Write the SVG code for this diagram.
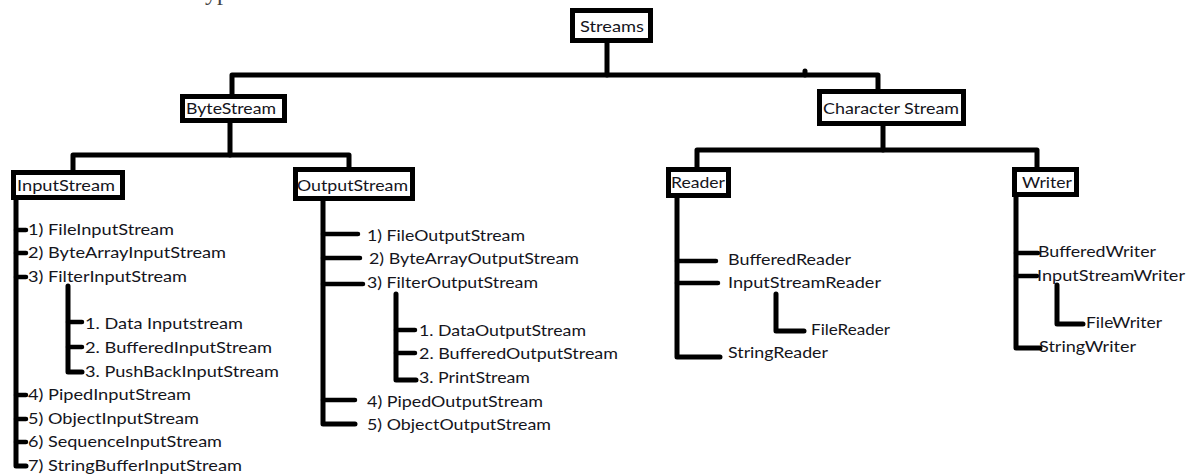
<svg xmlns="http://www.w3.org/2000/svg" width="1192" height="474" viewBox="0 0 1192 474">
  <style>
    .box { fill: #ffffff; stroke: #000000; stroke-width: 5; }
    .wire { fill: none; stroke: #000000; stroke-width: 5; stroke-linejoin: round; stroke-linecap: round; }
    .tick { fill: none; stroke: #000000; stroke-width: 4.5; stroke-linejoin: round; stroke-linecap: round; }
    text { font-family: Lato, "Open Sans", "Liberation Sans", sans-serif; font-size: 15px; fill: #15151c; }
    .cut { font-family: "Liberation Serif", serif; font-size: 24px; fill: #444444; }
  </style>
  <rect width="1192" height="474" fill="#ffffff"/>

  <!-- caption line running off the top edge -->
  <text class="cut" x="205" y="0">yp</text>

  <!-- tree connectors -->
  <g id="connectors">
    <path class="wire" d="M607 43 V75"/>
    <path class="wire" d="M232 94 V75 H878 V89"/>
    <path class="wire" d="M805 75 V71" stroke-width="3"/>
    <path class="wire" d="M230 123 V155"/>
    <path class="wire" d="M73 170 V155 H349 V167"/>
    <path class="wire" d="M883 126 V150"/>
    <path class="wire" d="M697 167 V150 H1037 V168"/>

    <!-- InputStream subclasses -->
    <path class="wire" d="M16 200 V466 H26"/>
    <path class="tick" d="M16 230 H26 M16 253 H26 M16 277 H26 M16 395 H26 M16 419 H26 M16 442 H26"/>
    <path class="wire" d="M68 286 V372 H82"/>
    <path class="tick" d="M68 322 H82 M68 347 H82"/>

    <!-- OutputStream subclasses -->
    <path class="wire" d="M323 201 V424 H355"/>
    <path class="tick" d="M323 234 H358 M323 258 H360 M323 284 H363 M323 400 H355"/>
    <path class="wire" d="M396 294 V380 H416"/>
    <path class="tick" d="M396 330 H415 M396 353 H415"/>

    <!-- Reader subclasses -->
    <path class="wire" d="M677 198 V357 H720"/>
    <path class="tick" d="M677 261 H716 M677 283 H718"/>
    <path class="wire" d="M776 294 V331 H804"/>

    <!-- Writer subclasses -->
    <path class="wire" d="M1016 196 V348 H1040"/>
    <path class="tick" d="M1016 253 H1038 M1016 276 H1037"/>
    <path class="wire" d="M1057 285 V324 H1083"/>
  </g>

  <g id="streams">
    <rect class="box" x="572.5" y="10.5" width="78" height="30"/>
    <text x="580" y="32" textLength="64" lengthAdjust="spacingAndGlyphs">Streams</text>
  </g>

  <g id="byte-stream">
    <rect class="box" x="182.5" y="96.5" width="102" height="24"/>
    <text x="186" y="114" textLength="90" lengthAdjust="spacingAndGlyphs">ByteStream</text>
  </g>

  <g id="character-stream">
    <rect class="box" x="819.5" y="91.5" width="144" height="32"/>
    <text x="823" y="114" textLength="136" lengthAdjust="spacingAndGlyphs">Character Stream</text>
  </g>

  <g id="input-stream">
    <rect class="box" x="13.5" y="172.5" width="109" height="25"/>
    <text x="17" y="191" textLength="98" lengthAdjust="spacingAndGlyphs">InputStream</text>
  </g>

  <g id="output-stream">
    <rect class="box" x="295.5" y="169.5" width="117" height="29"/>
    <text x="297" y="191" textLength="111" lengthAdjust="spacingAndGlyphs">OutputStream</text>
  </g>

  <g id="reader">
    <rect class="box" x="668.5" y="169.5" width="60" height="26"/>
    <text x="671" y="188" textLength="54" lengthAdjust="spacingAndGlyphs">Reader</text>
  </g>

  <g id="writer">
    <rect class="box" x="1014.5" y="169.5" width="62" height="25"/>
    <text x="1022" y="188" textLength="50" lengthAdjust="spacingAndGlyphs">Writer</text>
  </g>

  <g id="input-stream-children">
    <text x="28" y="235" textLength="146" lengthAdjust="spacingAndGlyphs">1) FileInputStream</text>
    <text x="28" y="258" textLength="198" lengthAdjust="spacingAndGlyphs">2) ByteArrayInputStream</text>
    <text x="28" y="282" textLength="159" lengthAdjust="spacingAndGlyphs">3) FilterInputStream</text>
    <text x="85" y="329" textLength="158" lengthAdjust="spacingAndGlyphs">1. Data Inputstream</text>
    <text x="85" y="353" textLength="187" lengthAdjust="spacingAndGlyphs">2. BufferedInputStream</text>
    <text x="85" y="377" textLength="194" lengthAdjust="spacingAndGlyphs">3. PushBackInputStream</text>
    <text x="28" y="400" textLength="163" lengthAdjust="spacingAndGlyphs">4) PipedInputStream</text>
    <text x="28" y="424" textLength="171" lengthAdjust="spacingAndGlyphs">5) ObjectInputStream</text>
    <text x="28" y="447" textLength="194" lengthAdjust="spacingAndGlyphs">6) SequenceInputStream</text>
    <text x="28" y="471" textLength="214" lengthAdjust="spacingAndGlyphs">7) StringBufferInputStream</text>
  </g>

  <g id="output-stream-children">
    <text x="367" y="241" textLength="158" lengthAdjust="spacingAndGlyphs">1) FileOutputStream</text>
    <text x="369" y="264" textLength="210" lengthAdjust="spacingAndGlyphs">2) ByteArrayOutputStream</text>
    <text x="367" y="288" textLength="171" lengthAdjust="spacingAndGlyphs">3) FilterOutputStream</text>
    <text x="419" y="336" textLength="167" lengthAdjust="spacingAndGlyphs">1. DataOutputStream</text>
    <text x="419" y="359" textLength="199" lengthAdjust="spacingAndGlyphs">2. BufferedOutputStream</text>
    <text x="419" y="383" textLength="111" lengthAdjust="spacingAndGlyphs">3. PrintStream</text>
    <text x="367" y="407" textLength="176" lengthAdjust="spacingAndGlyphs">4) PipedOutputStream</text>
    <text x="367" y="430" textLength="184" lengthAdjust="spacingAndGlyphs">5) ObjectOutputStream</text>
  </g>

  <g id="reader-children">
    <text x="728" y="265" textLength="123" lengthAdjust="spacingAndGlyphs">BufferedReader</text>
    <text x="728" y="288" textLength="153" lengthAdjust="spacingAndGlyphs">InputStreamReader</text>
    <text x="811" y="335" textLength="79" lengthAdjust="spacingAndGlyphs">FileReader</text>
    <text x="728" y="358" textLength="100" lengthAdjust="spacingAndGlyphs">StringReader</text>
  </g>

  <g id="writer-children">
    <text x="1038" y="257" textLength="118" lengthAdjust="spacingAndGlyphs">BufferedWriter</text>
    <text x="1037" y="281" textLength="148" lengthAdjust="spacingAndGlyphs">InputStreamWriter</text>
    <text x="1086" y="328" textLength="76" lengthAdjust="spacingAndGlyphs">FileWriter</text>
    <text x="1039" y="352" textLength="97" lengthAdjust="spacingAndGlyphs">StringWriter</text>
  </g>
</svg>
